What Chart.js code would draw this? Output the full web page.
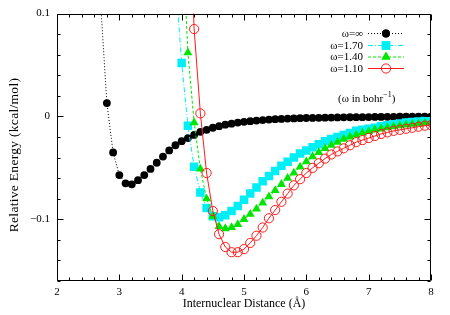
<!DOCTYPE html>
<html>
<head>
<meta charset="utf-8">
<script src="https://cdn.jsdelivr.net/npm/chart.js@4.4.1/dist/chart.umd.min.js"></script>
<style>
  html, body { margin: 0; padding: 0; background: #fff; }
</style>
</head>
<body>
<canvas id="chart" width="450" height="315"></canvas>
<script>
// internuclear distance grid (Å)
const distance = [2.7, 2.8, 2.9, 3.0, 3.1, 3.2, 3.3, 3.4, 3.5, 3.6, 3.7, 3.8, 3.9, 4.0, 4.1, 4.2, 4.3, 4.4, 4.5, 4.6,
  4.7, 4.8, 4.9, 5.0, 5.1, 5.2, 5.3, 5.4, 5.5, 5.6, 5.7, 5.8, 5.9, 6.0, 6.1, 6.2, 6.3, 6.4, 6.5, 6.6,
  6.7, 6.8, 6.9, 7.0, 7.1, 7.2, 7.3, 7.4, 7.5, 7.6, 7.7, 7.8, 7.9, 8.0];

const omegaInf = [0.11, 0.013, -0.035, -0.057, -0.065, -0.066, -0.062, -0.057, -0.051, -0.045,
  -0.039, -0.033, -0.028, -0.024, -0.021, -0.018, -0.015, -0.013, -0.011, -0.0095,
  -0.008, -0.007, -0.006, -0.0052, -0.0046, -0.004, -0.0035, -0.003, -0.0027, -0.0024,
  -0.0021, -0.0019, -0.0017, -0.0015, -0.0014, -0.0013, -0.0012, -0.0011, -0.001, -0.0009,
  -0.0008, -0.0007, -0.0007, -0.0006, -0.0005, -0.0005, -0.0004, -0.0004, -0.0003, -0.0003,
  -0.0002, -0.0002, -0.0001, -0.0001];

const omega170 = [null, null, null, null, null, null, null, null, null, null, null, null,
  0.135, 0.052, -0.009, -0.049, -0.074, -0.089, -0.097, -0.098, -0.096, -0.092, -0.087,
  -0.081, -0.075, -0.069, -0.063, -0.058, -0.053, -0.048, -0.044, -0.040, -0.036,
  -0.033, -0.030, -0.027, -0.024, -0.022, -0.020, -0.018, -0.016, -0.014, -0.013,
  -0.012, -0.011, -0.0095, -0.0085, -0.0076, -0.0068, -0.006, -0.0054, -0.0048, -0.0043, -0.0038];

const omega140 = [null, null, null, null, null, null, null, null, null, null, null, null, null,
  0.19, 0.062, -0.006, -0.051, -0.080, -0.097, -0.107, -0.109, -0.108, -0.105,
  -0.100, -0.095, -0.090, -0.084, -0.078, -0.072, -0.066, -0.060, -0.055, -0.049,
  -0.044, -0.039, -0.035, -0.031, -0.028, -0.025, -0.022, -0.020, -0.018, -0.016,
  -0.0145, -0.013, -0.012, -0.011, -0.010, -0.009, -0.0082, -0.0075, -0.007, -0.0065, -0.006];

const omega110 = [null, null, null, null, null, null, null, null, null, null, null, null, null, null,
  0.24, 0.085, 0.003, -0.055, -0.092, -0.1145, -0.127, -0.132, -0.132,
  -0.129, -0.123, -0.116, -0.108, -0.099, -0.091, -0.083, -0.075, -0.067, -0.061,
  -0.055, -0.050, -0.0455, -0.041, -0.037, -0.034, -0.031, -0.028, -0.025, -0.023,
  -0.021, -0.019, -0.017, -0.0155, -0.014, -0.013, -0.012, -0.011, -0.010, -0.009, -0.0085];

const seriesLabels = ["ω=∞", "ω=1.70", "ω=1.40", "ω=1.10"];
const xTickValues = [2, 3, 4, 5, 6, 7, 8];
const yTickValues = [-0.1, 0, 0.1];

const SERIF = "'Liberation Serif', 'DejaVu Serif', serif";

function points(values) {
  return distance.map((x, i) => ({ x: x, y: values[i] })).filter(p => p.y !== null);
}

const datasets = [
  {
    label: seriesLabels[0], data: points(omegaInf), order: 4,
    borderColor: "#000", backgroundColor: "#000", borderWidth: 1, borderDash: [1, 2],
    pointStyle: "circle", pointRadius: 3.9, pointBorderWidth: 0,
  },
  {
    label: seriesLabels[1], data: points(omega170), order: 3,
    borderColor: "#00eef5", backgroundColor: "#00eef5", borderWidth: 1, borderDash: [5, 2, 1, 2],
    pointStyle: "rect", pointRadius: 6, pointBorderWidth: 0,
  },
  {
    label: seriesLabels[2], data: points(omega140), order: 2,
    borderColor: "#00e600", backgroundColor: "#00e600", borderWidth: 1, borderDash: [3, 2],
    pointStyle: "triangle", pointRadius: 5.2, pointBorderWidth: 0,
  },
  {
    label: seriesLabels[3], data: points(omega110), order: 1,
    borderColor: "#ff1a1a", backgroundColor: "rgba(0,0,0,0)", borderWidth: 1, borderDash: [],
    pointStyle: "circle", pointRadius: 4.6, pointBorderWidth: 1,
  },
];

// gnuplot-like frame with inward major/minor ticks, the in-plot key and the y title
const framePlugin = {
  id: "frame",
  afterDraw(chart) {
    const ctx = chart.ctx;
    const a = chart.chartArea;
    const xs = chart.scales.x, ys = chart.scales.y;
    const L = Math.round(a.left) + 0.5, R = Math.round(a.right) - 0.5;
    const T = Math.round(a.top) + 0.5, B = Math.round(a.bottom) - 0.5;
    ctx.save();
    ctx.strokeStyle = "#000";
    ctx.lineWidth = 1;
    ctx.setLineDash([]);
    ctx.beginPath();
    for (let v = 2; v <= 8.0001; v += 0.2) {
      const px = Math.round(xs.getPixelForValue(v)) + 0.5;
      const len = Math.abs(v - Math.round(v)) < 1e-6 ? 6 : 3;
      ctx.moveTo(px, B); ctx.lineTo(px, B - len);
      ctx.moveTo(px, T); ctx.lineTo(px, T + len);
    }
    for (let v = -0.16; v <= 0.1001; v += 0.02) {
      const py = Math.round(ys.getPixelForValue(v)) + 0.5;
      const major = Math.abs(v * 10 - Math.round(v * 10)) < 1e-6;
      const len = major ? 6 : 3;
      ctx.moveTo(L, py); ctx.lineTo(L + len, py);
      ctx.moveTo(R, py); ctx.lineTo(R - len, py);
    }
    ctx.rect(L, T, R - L, B - T);
    ctx.stroke();

    // key
    const rowY = [33, 45, 56.5, 68];
    ctx.font = "11px " + SERIF;
    ctx.textAlign = "right";
    ctx.textBaseline = "middle";
    chart.data.datasets.forEach((ds, i) => {
      const y = rowY[i];
      ctx.fillStyle = "#000";
      ctx.fillText(ds.label, 363, y + 1);
      ctx.strokeStyle = ds.borderColor;
      ctx.lineWidth = 1;
      ctx.setLineDash(ds.borderDash);
      ctx.beginPath();
      ctx.moveTo(368, y + 0.5); ctx.lineTo(404, y + 0.5);
      ctx.stroke();
      ctx.setLineDash([]);
      ctx.fillStyle = ds.backgroundColor;
      Chart.helpers.drawPoint(ctx, {
        pointStyle: ds.pointStyle, radius: ds.pointRadius, rotation: 0, borderWidth: ds.pointBorderWidth,
      }, 386, y + 0.5);
      if (ds.pointBorderWidth === 0) ctx.fill();
    });

    // (ω in bohr^-1)
    ctx.fillStyle = "#000";
    ctx.textAlign = "left";
    ctx.textBaseline = "alphabetic";
    ctx.font = "11px " + SERIF;
    let x = 338;
    const base = 102;
    const t1 = "(ω in bohr";
    ctx.fillText(t1, x, base);
    x += ctx.measureText(t1).width;
    ctx.font = "8px " + SERIF;
    ctx.fillText("−1", x, base - 5);
    x += ctx.measureText("−1").width;
    ctx.font = "11px " + SERIF;
    ctx.fillText(")", x, base);

    // y axis title
    ctx.translate(14, 155);
    ctx.rotate(-Math.PI / 2);
    ctx.font = "13.5px " + SERIF;
    if ("letterSpacing" in ctx) ctx.letterSpacing = "0.3px";
    ctx.textAlign = "center";
    ctx.textBaseline = "middle";
    ctx.fillText("Relative Energy (kcal/mol)", 0, 0);
    ctx.restore();
  },
};

function tickText(v) {
  if (Math.abs(v) < 1e-9) return "0";
  return v < 0 ? "−" + Math.abs(v) : String(v);
}

new Chart(document.getElementById("chart"), {
  type: "line",
  data: { datasets: datasets },
  plugins: [framePlugin],
  options: {
    responsive: false,
    animation: false,
    layout: { padding: { top: 13, right: 19, left: 0, bottom: 0 } },
    plugins: { legend: { display: false }, tooltip: { enabled: false } },
    elements: { line: { tension: 0 } },
    scales: {
      x: {
        type: "linear", min: 2, max: 8,
        grid: { display: false, drawTicks: false },
        border: { display: false },
        afterBuildTicks: s => { s.ticks = xTickValues.map(v => ({ value: v })); },
        afterFit: s => { s.height = 34; },
        ticks: { padding: 5, color: "#000", font: { family: SERIF, size: 11 }, callback: v => tickText(v), maxRotation: 0 },
        title: { display: true, text: "Internuclear Distance (Å)", color: "#000",
          font: { family: SERIF, size: 12 }, padding: { top: 0, bottom: 4 } },
      },
      y: {
        type: "linear", min: -0.16, max: 0.1,
        grid: { display: false, drawTicks: false },
        border: { display: false },
        afterBuildTicks: s => { s.ticks = yTickValues.map(v => ({ value: v })); },
        afterFit: s => { s.width = 57; },
        ticks: { padding: 7, color: "#000", font: { family: SERIF, size: 11 }, callback: v => tickText(v) },
        title: { display: false },
      },
    },
  },
});
</script>
</body>
</html>
